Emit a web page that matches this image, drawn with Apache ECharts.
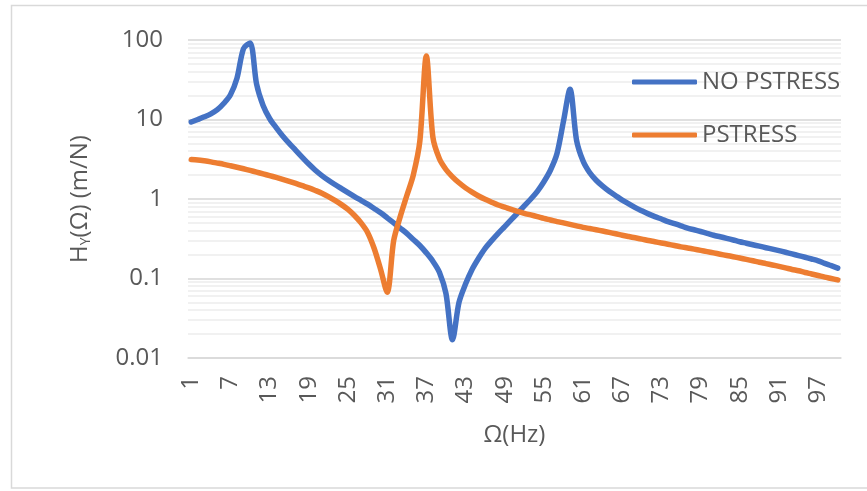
<!DOCTYPE html>
<html>
<head>
<meta charset="utf-8">
<script src="https://cdn.jsdelivr.net/npm/echarts@6/dist/echarts.min.js"></script>
<style>
html,body{margin:0;padding:0;background:#fff;}
#c{width:867px;height:491px;}
</style>
</head>
<body>
<div id="c"></div>
<script>
// Frequency categories (Hz)
var categories = [];
for (var i = 1; i <= 100; i++) categories.push(String(i));

// NO PSTRESS (blue)
var noPstress = [
  9.3, 10, 10.8, 11.8, 13.3, 16, 20.5, 33, 78, 92,
  28, 15, 10.3, 7.9, 6.2, 5.0, 4.1, 3.35, 2.75, 2.3,
  1.97, 1.72, 1.52, 1.35, 1.2, 1.07, 0.96, 0.86, 0.76, 0.67,
  0.58, 0.5, 0.43, 0.37, 0.31, 0.26, 0.21, 0.165, 0.12, 0.065,
  0.017, 0.05, 0.085, 0.13, 0.18, 0.24, 0.3, 0.37, 0.45, 0.55,
  0.67, 0.82, 1.0, 1.25, 1.65, 2.3, 3.7, 9.5, 24, 5.5,
  3.0, 2.15, 1.72, 1.45, 1.25, 1.1, 0.97, 0.87, 0.78, 0.71,
  0.65, 0.6, 0.56, 0.52, 0.49, 0.46, 0.43, 0.41, 0.39, 0.37,
  0.35, 0.335, 0.32, 0.305, 0.29, 0.278, 0.266, 0.255, 0.244, 0.234,
  0.224, 0.214, 0.204, 0.194, 0.185, 0.176, 0.167, 0.155, 0.145, 0.135
];

// PSTRESS (orange)
var pstress = [
  3.15, 3.1, 3.02, 2.93, 2.83, 2.73, 2.62, 2.51, 2.4, 2.29,
  2.18, 2.07, 1.97, 1.87, 1.77, 1.67, 1.57, 1.47, 1.38, 1.28,
  1.18, 1.07, 0.96, 0.85, 0.74, 0.62, 0.5, 0.38, 0.24, 0.13,
  0.067, 0.3, 0.6, 1.1, 2.0, 5.3, 63, 6.0, 3.2, 2.35,
  1.9, 1.6, 1.38, 1.22, 1.09, 0.99, 0.91, 0.84, 0.79, 0.74,
  0.7, 0.66, 0.63, 0.6, 0.57, 0.545, 0.52, 0.5, 0.48, 0.46,
  0.44, 0.425, 0.41, 0.395, 0.38, 0.365, 0.35, 0.337, 0.325, 0.313,
  0.3, 0.29, 0.28, 0.27, 0.26, 0.25, 0.242, 0.234, 0.226, 0.218,
  0.21, 0.202, 0.195, 0.188, 0.181, 0.174, 0.167, 0.16, 0.154, 0.148,
  0.142, 0.136, 0.13, 0.125, 0.119, 0.114, 0.109, 0.104, 0.1, 0.096
];

// Y axis decades and tick labels
var yDecades = [0.01, 0.1, 1, 10];
var yTickLabels = ['0.01', '0.1', '1', '10', '100'];
var minorMultipliers = [2, 3, 4, 5, 6, 7, 8, 9];

var minorLines = [];
yDecades.forEach(function (d) {
  minorMultipliers.forEach(function (m) {
    minorLines.push({ yAxis: +(d * m).toPrecision(3) });
  });
});

var FONT = "'Open Sans', 'Liberation Sans', sans-serif";
var TXT = '#595959';

var chart = echarts.init(document.getElementById('c'), null, { renderer: 'canvas' });
chart.setOption({
  backgroundColor: '#ffffff',
  animation: false,
  graphic: [{
    type: 'rect',
    shape: { x: 11.5, y: 5.5, width: 862, height: 482.5 },
    style: { fill: 'none', stroke: '#d9d9d9', lineWidth: 1.5 },
    silent: true
  }],
  grid: { left: 188, right: 26, top: 40, bottom: 133, containLabel: false },
  legend: {
    orient: 'vertical',
    left: 627,
    top: 63,
    itemWidth: 65,
    itemHeight: 5,
    itemGap: 25,
    icon: 'roundRect',
    data: ['NO PSTRESS', 'PSTRESS'],
    textStyle: { fontFamily: FONT, fontSize: 24, color: TXT, lineHeight: 28 }
  },
  xAxis: {
    type: 'category',
    data: categories,
    boundaryGap: true,
    name: 'Ω(Hz)',
    nameLocation: 'middle',
    nameGap: 65,
    nameTextStyle: { fontFamily: FONT, fontSize: 24, color: TXT },
    axisLine: { lineStyle: { color: '#d9d9d9', width: 1.5 } },
    axisTick: { show: false },
    axisLabel: {
      interval: 5,
      rotate: 90,
      margin: 18,
      fontFamily: FONT,
      fontSize: 24,
      color: TXT
    },
    splitLine: { show: false }
  },
  yAxis: {
    type: 'log',
    logBase: 10,
    min: 0.01,
    max: 100,
    name: '{a|H}{b|Y}{a|(Ω) (m/N)}',
    nameLocation: 'middle',
    nameRotate: 90,
    nameGap: 95,
    nameTextStyle: {
      fontFamily: FONT, color: TXT, fontSize: 24,
      rich: {
        a: { fontFamily: FONT, fontSize: 24, color: TXT },
        b: { fontFamily: FONT, fontSize: 14, color: TXT, padding: [12, 0, 0, 0] }
      }
    },
    axisLine: { show: false },
    axisTick: { show: false },
    axisLabel: {
      margin: 25,
      fontFamily: FONT,
      fontSize: 24,
      color: TXT,
      formatter: function (v) {
        var idx = Math.round(Math.log10(v)) + 2;
        return yTickLabels[idx] !== undefined ? yTickLabels[idx] : '';
      }
    },
    splitLine: { show: true, lineStyle: { color: '#d6d6d6', width: 1.5 } }
  },
  series: [
    {
      name: 'minor',
      type: 'line',
      data: [],
      silent: true,
      markLine: {
        z: 1,
        silent: true,
        symbol: ['none', 'none'],
        label: { show: false },
        lineStyle: { color: '#ececec', width: 1.5, type: 'solid' },
        data: minorLines
      }
    },
    {
      name: 'NO PSTRESS',
      type: 'line',
      data: noPstress,
      smooth: 0.3,
      showSymbol: false,
      symbol: 'none',
      z: 3,
      itemStyle: { color: '#4472C4' },
      lineStyle: { color: '#4472C4', width: 5.5, cap: 'round', join: 'round' }
    },
    {
      name: 'PSTRESS',
      type: 'line',
      data: pstress,
      smooth: 0.3,
      showSymbol: false,
      symbol: 'none',
      z: 3,
      itemStyle: { color: '#ED7D31' },
      lineStyle: { color: '#ED7D31', width: 5.5, cap: 'round', join: 'round' }
    }
  ]
});
</script>
</body>
</html>
